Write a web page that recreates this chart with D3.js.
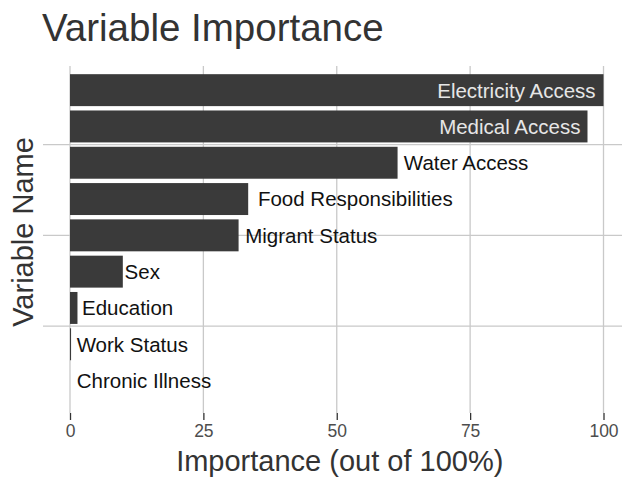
<!DOCTYPE html>
<html>
<head>
<meta charset="utf-8">
<script src="https://cdn.jsdelivr.net/npm/d3@7"></script>
<style>
  body { margin: 0; background: #fff; }
</style>
</head>
<body>
<div id="chart"></div>
<script>
const variables = ["Electricity Access", "Medical Access", "Water Access", "Food Responsibilities",
  "Migrant Status", "Sex", "Education", "Work Status", "Chronic Illness"];
const importance = [100, 97, 61.4, 33.4, 31.6, 9.9, 1.4, 0.2, 0];
const xTicks = [0, 25, 50, 75, 100];
// horizontal grid lines sit at these row positions (row index, 0 = top)
const yGridRows = [1.5, 4, 6.5];

const width = 622, height = 478;
const panel = { left: 43, right: 622, top: 66, bottom: 413 };
const font = "Liberation Sans, Arial, Helvetica, sans-serif";

const svg = d3.select("#chart").append("svg")
  .attr("width", width)
  .attr("height", height)
  .attr("font-family", font);

const x = d3.scaleLinear().domain([0, 100]).range([70, 603.5]);

const y = d3.scaleBand()
  .domain(variables)
  .range([72, 398.7])
  .paddingInner(0.12)
  .paddingOuter(0.06);

const yRow = d3.scaleLinear()
  .domain([0, variables.length - 1])
  .range([y(variables[0]) + y.bandwidth() / 2, y(variables[variables.length - 1]) + y.bandwidth() / 2]);

const gridColor = "#c9c9c9";

// vertical grid
svg.append("g").selectAll("line")
  .data(xTicks)
  .join("line")
  .attr("x1", d => x(d)).attr("x2", d => x(d))
  .attr("y1", panel.top).attr("y2", panel.bottom)
  .attr("stroke", gridColor).attr("stroke-width", 1.3);

// horizontal grid
svg.append("g").selectAll("line")
  .data(yGridRows)
  .join("line")
  .attr("x1", panel.left).attr("x2", panel.right)
  .attr("y1", d => yRow(d)).attr("y2", d => yRow(d))
  .attr("stroke", gridColor).attr("stroke-width", 1.3);

// bars
const rows = variables.map((v, i) => ({ name: v, value: importance[i] }));

svg.append("g").selectAll("rect")
  .data(rows)
  .join("rect")
  .attr("x", x(0))
  .attr("y", d => y(d.name))
  .attr("width", d => x(d.value) - x(0))
  .attr("height", y.bandwidth())
  .attr("fill", "#3a3a3a");

// labels: inside for long bars, outside otherwise (offset 5% of text width)
const labels = svg.append("g").selectAll("text")
  .data(rows)
  .join("text")
  .attr("font-family", font)
  .attr("y", d => y(d.name) + y.bandwidth() / 2)
  .attr("dy", "0.36em")
  .attr("font-size", 20.5)
  .attr("fill", d => d.value > 90 ? "#e6e6e6" : "#111")
  .attr("text-anchor", d => d.value > 90 ? "end" : "start")
  .text(d => d.name);

labels.attr("x", function (d) {
  const w = this.getComputedTextLength();
  return d.value > 90 ? x(d.value) - 0.05 * w : x(d.value) + 0.05 * w;
});

// x axis ticks and labels
const xAxis = svg.append("g")
  .attr("transform", `translate(0,${panel.bottom})`)
  .call(d3.axisBottom(x).tickValues(xTicks).tickSize(7).tickPadding(5).tickFormat(d3.format("d")));
xAxis.attr("font-family", font);
xAxis.select(".domain").remove();
xAxis.selectAll(".tick line").attr("stroke", "#333").attr("stroke-width", 1.3);
xAxis.selectAll(".tick text")
  .attr("font-size", 17.5)
  .attr("fill", "#4d4d4d");

// titles
svg.append("text")
  .attr("font-family", font)
  .attr("x", 42).attr("y", 41)
  .attr("font-size", 38.5)
  .attr("fill", "#333")
  .text("Variable Importance");

svg.append("text")
  .attr("font-family", font)
  .attr("x", x(50) + 3).attr("y", 471)
  .attr("text-anchor", "middle")
  .attr("font-size", 29)
  .attr("fill", "#333")
  .text("Importance (out of 100%)");

svg.append("text")
  .attr("font-family", font)
  .attr("transform", `translate(33,${232}) rotate(-90)`)
  .attr("text-anchor", "middle")
  .attr("font-size", 29)
  .attr("fill", "#333")
  .text("Variable Name");
</script>
</body>
</html>
